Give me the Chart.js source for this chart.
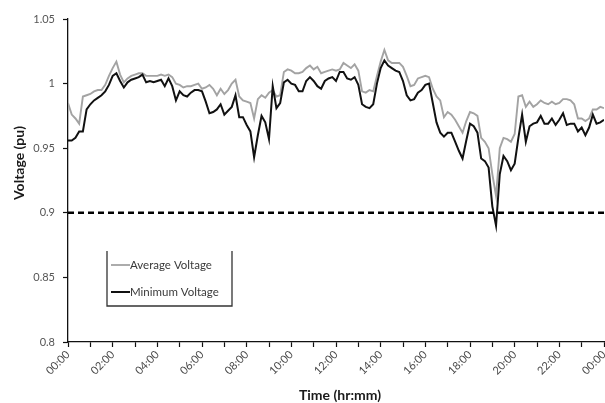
<!DOCTYPE html>
<html>
<head>
<meta charset="utf-8">
<title>Voltage profile</title>
<script src="https://cdn.jsdelivr.net/npm/chart.js@4.4.1/dist/chart.umd.min.js"></script>
<style>
  html, body { margin: 0; padding: 0; background: #ffffff; overflow: hidden; }
  #wrap { position: relative; width: 605px; height: 403px; }
</style>
</head>
<body>
<div id="wrap"><canvas id="chart"></canvas></div>
<script>
// Voltage samples every 10 minutes over one day (00:00 .. 24:00)
const sampleMinutes = 10;

const avgVoltage = [
  0.985, 0.976, 0.973, 0.969, 0.990, 0.991, 0.992, 0.994, 0.995, 0.995, 0.999, 1.006,
  1.012, 1.017, 1.007, 1.001, 1.004, 1.006, 1.007, 1.008, 1.008, 1.006, 1.006, 1.006,
  1.006, 1.007, 1.006, 1.007, 1.005, 1.000, 0.999, 0.997, 0.998, 0.998, 0.999, 1.000,
  0.996, 0.997, 0.999, 0.996, 0.991, 0.996, 0.992, 0.995, 1.000, 1.003, 0.990, 0.987,
  0.986, 0.985, 0.973, 0.988, 0.991, 0.989, 0.993, 0.995, 0.990, 0.991, 1.009, 1.011,
  1.010, 1.008, 1.008, 1.009, 1.012, 1.014, 1.011, 1.013, 1.008, 1.009, 1.010, 1.011,
  1.010, 1.011, 1.016, 1.014, 1.012, 1.015, 1.010, 0.994, 0.993, 0.995, 0.994, 1.006,
  1.017, 1.026, 1.018, 1.016, 1.016, 1.016, 1.013, 1.006, 0.998, 0.999, 1.004, 1.005,
  1.006, 1.005, 0.996, 0.990, 0.987, 0.974, 0.978, 0.976, 0.972, 0.967, 0.962, 0.971,
  0.978, 0.977, 0.975, 0.958, 0.955, 0.950, 0.930, 0.913, 0.950, 0.958, 0.957, 0.955,
  0.961, 0.990, 0.991, 0.982, 0.986, 0.982, 0.984, 0.987, 0.985, 0.984, 0.986, 0.984,
  0.985, 0.988, 0.988, 0.987, 0.984, 0.973, 0.973, 0.971, 0.973, 0.980, 0.980, 0.982,
  0.981
];

const minVoltage = [
  0.956, 0.956, 0.958, 0.963, 0.963, 0.980, 0.984, 0.987, 0.989, 0.991, 0.994, 0.999,
  1.006, 1.008, 1.002, 0.997, 1.001, 1.003, 1.004, 1.005, 1.007, 1.001, 1.002, 1.001,
  1.002, 1.003, 0.998, 1.004, 0.998, 0.987, 0.994, 0.991, 0.990, 0.993, 0.995, 0.995,
  0.994, 0.986, 0.977, 0.978, 0.980, 0.984, 0.976, 0.979, 0.982, 0.991, 0.974, 0.974,
  0.968, 0.963, 0.943, 0.960, 0.975, 0.970, 0.957, 0.998, 0.981, 0.985, 1.001, 1.003,
  1.000, 0.999, 0.994, 0.994, 1.002, 1.005, 1.002, 0.998, 0.996, 1.002, 1.004, 1.005,
  1.002, 1.009, 1.009, 1.004, 1.003, 1.005, 0.999, 0.984, 0.982, 0.981, 0.984, 1.000,
  1.012, 1.018, 1.014, 1.012, 1.010, 1.009, 1.002, 0.991, 0.987, 0.988, 0.993, 0.995,
  0.999, 1.000, 0.985, 0.970, 0.962, 0.959, 0.962, 0.962, 0.955, 0.948, 0.942, 0.956,
  0.969, 0.967, 0.962, 0.942, 0.940, 0.935, 0.905, 0.890, 0.930, 0.944, 0.940, 0.933,
  0.938, 0.958, 0.976, 0.955, 0.967, 0.969, 0.970, 0.975, 0.969, 0.969, 0.973, 0.968,
  0.972, 0.977, 0.968, 0.969, 0.969, 0.963, 0.966, 0.960, 0.966, 0.976, 0.969, 0.970,
  0.972
];

const hourLabels = ['00:00', '02:00', '04:00', '06:00', '08:00', '10:00', '12:00',
                    '14:00', '16:00', '18:00', '20:00', '22:00', '00:00'];
const yTickLabels = ['0.8', '0.85', '0.9', '0.95', '1', '1.05'];
const limitVoltage = 0.9;
const legendNames = ['Average Voltage', 'Minimum Voltage'];

const toPoints = arr => arr.map((v, i) => ({ x: i * sampleMinutes, y: v }));
const dayMinutes = (avgVoltage.length - 1) * sampleMinutes;

const FONT = 'Lato, "Open Sans", "Liberation Sans", sans-serif';
const AVG_COLOR = '#a3a3a3';
const MIN_COLOR = '#111111';

// Axis titles and the boxed legend are painted after the chart.
const decorations = {
  id: 'decorations',
  afterDraw(chart) {
    const ctx = chart.ctx;
    const area = chart.chartArea;
    ctx.save();

    // axis titles
    ctx.fillStyle = '#1a1a1a';
    ctx.font = 'bold 14px ' + FONT;
    ctx.textAlign = 'center';
    ctx.textBaseline = 'middle';
    ctx.fillText('Time (hr:mm)', (area.left + area.right) / 2 + 4, 395);
    ctx.translate(19, 163);
    ctx.rotate(-Math.PI / 2);
    ctx.fillText('Voltage (pu)', 0, 0);
    ctx.setTransform(1, 0, 0, 1, 0, 0);

    // legend frame (left, bottom, right)
    const bx0 = 107, bx1 = 232, by0 = 251, by1 = 306;
    ctx.strokeStyle = '#333333';
    ctx.lineWidth = 1.3;
    ctx.beginPath();
    ctx.moveTo(bx0, by0);
    ctx.lineTo(bx0, by1);
    ctx.lineTo(bx1, by1);
    ctx.lineTo(bx1, by0);
    ctx.stroke();

    // legend entries
    const rows = [
      { y: 265, color: AVG_COLOR, width: 1.8 },
      { y: 292, color: MIN_COLOR, width: 2 }
    ];
    ctx.font = '11.5px ' + FONT;
    ctx.textAlign = 'left';
    rows.forEach((r, i) => {
      ctx.strokeStyle = r.color;
      ctx.lineWidth = r.width;
      ctx.beginPath();
      ctx.moveTo(111, r.y);
      ctx.lineTo(130, r.y);
      ctx.stroke();
      ctx.fillStyle = '#3a3a3a';
      ctx.fillText(legendNames[i], 130, r.y);
    });
    ctx.restore();
  }
};

new Chart(document.getElementById('chart'), {
  type: 'line',
  data: {
    datasets: [
      {
        label: legendNames[0],
        data: toPoints(avgVoltage),
        borderColor: AVG_COLOR,
        borderWidth: 1.9,
        pointRadius: 0,
        tension: 0,
        order: 2
      },
      {
        label: legendNames[1],
        data: toPoints(minVoltage),
        borderColor: MIN_COLOR,
        borderWidth: 2,
        pointRadius: 0,
        tension: 0,
        order: 1
      },
      {
        label: 'limit',
        data: [{ x: 0, y: limitVoltage }, { x: dayMinutes, y: limitVoltage }],
        borderColor: '#000000',
        borderWidth: 2.5,
        borderDash: [6, 4],
        pointRadius: 0,
        order: 0
      }
    ]
  },
  options: {
    responsive: true,
    maintainAspectRatio: false,
    devicePixelRatio: 1,
    animation: false,
    layout: { padding: { top: 19, right: 1, left: 0, bottom: 0 } },
    plugins: {
      legend: { display: false },
      tooltip: { enabled: false }
    },
    scales: {
      x: {
        type: 'linear',
        min: 0,
        max: dayMinutes,
        border: { color: '#111111', width: 1.3 },
        grid: { drawOnChartArea: false, tickLength: 5, tickColor: '#111111', tickWidth: 1.2 },
        ticks: {
          stepSize: 60,
          autoSkip: false,
          minRotation: 45,
          maxRotation: 45,
          padding: 1,
          color: '#4a4a4a',
          font: { family: FONT, size: 11 },
          callback: v => (v % 120 === 0 ? hourLabels[v / 120] : '')
        },
        afterFit: s => { s.height = 61; s.paddingLeft = 0; s.paddingRight = 0; }
      },
      y: {
        min: 0.8,
        max: 1.05,
        border: { color: '#111111', width: 1.3 },
        grid: { drawOnChartArea: false, tickLength: 5, tickColor: '#111111', tickWidth: 1.2 },
        ticks: {
          stepSize: 0.05,
          padding: 8,
          color: '#555555',
          font: { family: FONT, size: 11 },
          callback: v => yTickLabels[Math.round((v - 0.8) / 0.05)]
        },
        afterFit: s => { s.width = 68; }
      }
    }
  },
  plugins: [decorations]
});
</script>
</body>
</html>
